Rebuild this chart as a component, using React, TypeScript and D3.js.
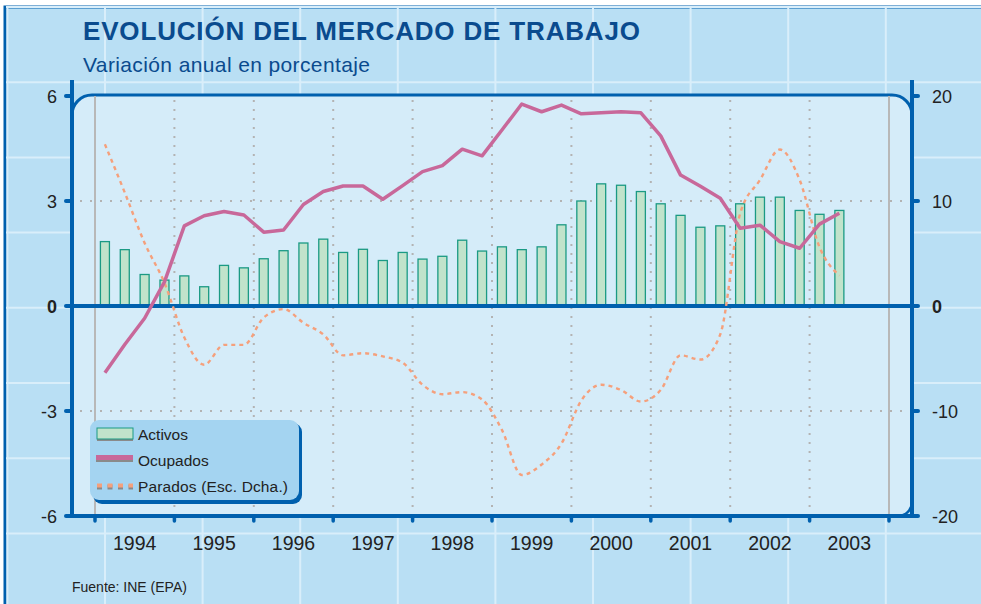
import React from 'react';
import * as d3 from 'd3';

const years = ['1994', '1995', '1996', '1997', '1998', '1999', '2000', '2001', '2002', '2003'];
const quarterNames = ['T1', 'T2', 'T3', 'T4'];
const quarters = years.flatMap((y) => quarterNames.map((q) => `${y}-${q}`)).slice(0, 38);

// Activos (% annual change, left scale)
const activos = [
  1.84, 1.61, 0.9, 0.74, 0.86, 0.55, 1.16, 1.09, 1.35, 1.58, 1.8, 1.91,
  1.53, 1.62, 1.3, 1.53, 1.34, 1.42, 1.88, 1.57, 1.69, 1.61, 1.69, 2.32,
  3.0, 3.49, 3.45, 3.27, 2.92, 2.59, 2.25, 2.29, 2.92, 3.11, 3.11, 2.73, 2.62, 2.73,
];
// Ocupados (% annual change, left scale)
const ocupados = [
  -1.91, -1.1, -0.35, 0.69, 2.29, 2.58, 2.7, 2.6, 2.11, 2.17, 2.9, 3.27,
  3.43, 3.43, 3.05, 3.44, 3.84, 4.01, 4.48, 4.29, 5.03, 5.77, 5.55, 5.74,
  5.49, 5.52, 5.55, 5.52, 4.86, 3.74, 3.42, 3.08, 2.22, 2.31, 1.84, 1.65, 2.34, 2.65,
];
// Parados (% annual change, right scale)
const parados = [
  15.4, 10.8, 6.0, 2.2, -3.0, -5.6, -3.7, -3.7, -1.1, -0.3, -1.6, -2.7,
  -4.7, -4.5, -4.8, -5.4, -7.5, -8.4, -8.2, -8.9, -11.8, -16.1, -15.1, -13.1,
  -9.0, -7.5, -8.0, -9.1, -8.0, -4.7, -5.1, -2.7, 8.8, 12.0, 14.9, 12.0, 5.6, 2.9,
];
const leftTicks = [-6, -3, 0, 3, 6];
const rightTicks = [-20, -10, 0, 10, 20];

const W = 981;
const H = 604;
const DARK = '#0060ae';
const TITLE = '#0a4b8e';
const BG = '#b9dff4';
const PANEL = '#d5ecf9';
const GRID = '#b3b3b3';
const FONT = '"Liberation Sans", Arial, sans-serif';

export default function App() {
  const xq = d3.scaleLinear().domain([0, 40]).range([95, 889]);
  const yL = d3.scaleLinear().domain([-6, 6]).range([516, 96]);
  const yR = d3.scaleLinear().domain([-20, 20]).range([516, 96]);
  const cx = (i: number) => xq(i + 0.5);
  const barW = 9;

  const lineOcu = d3
    .line<number>()
    .x((_, i) => cx(i))
    .y((d) => yL(d));
  const linePar = d3
    .line<number>()
    .x((_, i) => cx(i))
    .y((d) => yR(d))
    .curve(d3.curveMonotoneX);

  const gridV: number[] = [];
  for (let x = 7.4; x < W; x += 97.6) gridV.push(x);
  const gridH: number[] = [];
  for (let y = 7; y < H; y += 75.2) gridH.push(y);

  const yearEdges = d3.range(0, 11).map((k) => xq(k * 4));

  return (
    <svg
      width={W}
      height={H}
      style={{ position: 'absolute', left: 0, top: 0, fontFamily: FONT }}
    >
      <rect x={0} y={0} width={W} height={H} fill="#ffffff" />
      <rect x={5} y={7} width={W + 20} height={H + 20} fill={BG} stroke={DARK} strokeWidth={3} />
      {gridV.map((x, i) => (
        <line key={'gv' + i} x1={x} x2={x} y1={8} y2={H} stroke="#d9eefa" strokeWidth={2} />
      ))}
      {gridH.map((y, i) => (
        <line key={'gh' + i} x1={6} x2={W} y1={y} y2={y} stroke="#d9eefa" strokeWidth={2} />
      ))}

      <text x={83} y={40} fill={TITLE} fontSize={26} fontWeight="bold" textLength={557} lengthAdjust="spacing">
        EVOLUCIÓN DEL MERCADO DE TRABAJO
      </text>
      <text x={83} y={72} fill={TITLE} fontSize={21} textLength={287} lengthAdjust="spacing">
        Variación anual en porcentaje
      </text>

      {/* panel */}
      <path
        d="M72,516 L72,115 A20,20 0 0 1 92,95 L892,95 A20,20 0 0 1 912,115 L912,502 A14,14 0 0 1 898,516 Z"
        fill={PANEL}
      />
      <path
        d="M72,115 A20,20 0 0 1 92,95 L892,95 A20,20 0 0 1 912,115"
        fill="none"
        stroke={DARK}
        strokeWidth={3}
      />
      <path d="M912,502 A14,14 0 0 1 898,516" fill="none" stroke={DARK} strokeWidth={2.5} />

      {/* grid */}
      {yearEdges.slice(1, 10).map((x, i) => (
        <line key={'yv' + i} x1={x} x2={x} y1={100} y2={514} stroke={GRID} strokeWidth={2} strokeDasharray="2 7" />
      ))}
      {[3, -3].map((v) => (
        <line key={'hl' + v} x1={80} x2={906} y1={yL(v)} y2={yL(v)} stroke={GRID} strokeWidth={2} strokeDasharray="2 8" />
      ))}
      {[yearEdges[0], yearEdges[10]].map((x, i) => (
        <line key={'ge' + i} x1={x} x2={x} y1={96} y2={516} stroke="#b8b8b8" strokeWidth={2} />
      ))}

      {/* bars */}
      {activos.map((v, i) => (
        <rect
          key={'b' + quarters[i]}
          x={cx(i) - barW / 2}
          y={yL(Math.max(0, v))}
          width={barW}
          height={Math.abs(yL(v) - yL(0))}
          fill="#c1e3cb"
          stroke="#1b9a84"
          strokeWidth={1.3}
        />
      ))}

      {/* zero line */}
      <line x1={66} x2={918} y1={yL(0)} y2={yL(0)} stroke={DARK} strokeWidth={4} />

      {/* lines */}
      <path d={linePar(parados) || ''} fill="none" stroke="#f5a07c" strokeWidth={2.4} strokeDasharray="4 4" />
      <path d={lineOcu(ocupados) || ''} fill="none" stroke="#c8689a" strokeWidth={3.5} strokeLinejoin="round" />

      {/* axes */}
      <line x1={72} x2={72} y1={80} y2={518} stroke={DARK} strokeWidth={4} />
      <line x1={912} x2={912} y1={80} y2={518} stroke={DARK} strokeWidth={4} />
      <line x1={66} x2={918} y1={516} y2={516} stroke={DARK} strokeWidth={4} />
      {leftTicks.map((t) => (
        <g key={'lt' + t}>
          <line x1={66} x2={72} y1={yL(t)} y2={yL(t)} stroke={DARK} strokeWidth={4} strokeLinecap="round" />
          <text
            x={57}
            y={yL(t) + 6.5}
            textAnchor="end"
            fontSize={18}
            fill="#222"
            fontWeight={t === 0 ? 'bold' : 'normal'}
          >
            {t}
          </text>
        </g>
      ))}
      {rightTicks.map((t) => (
        <g key={'rt' + t}>
          <line x1={912} x2={918} y1={yR(t)} y2={yR(t)} stroke={DARK} strokeWidth={4} strokeLinecap="round" />
          <text
            x={932}
            y={yR(t) + 6.5}
            textAnchor="start"
            fontSize={18}
            fill="#222"
            fontWeight={t === 0 ? 'bold' : 'normal'}
          >
            {t}
          </text>
        </g>
      ))}
      {yearEdges.map((x, i) => (
        <line key={'xt' + i} x1={x} x2={x} y1={516} y2={521} stroke={DARK} strokeWidth={3.5} strokeLinecap="round" />
      ))}
      {years.map((y, i) => (
        <text key={'yl' + y} x={xq(i * 4 + 2)} y={550} textAnchor="middle" fontSize={19.5} fill="#222">
          {y}
        </text>
      ))}

      {/* legend */}
      <rect x={93} y={423} width={209} height={81} rx={9} fill={DARK} />
      <rect x={90} y={420} width={209} height={80} rx={9} fill="#a4d4f1" />
      <rect x={97} y={430} width={36} height={11} fill="#8a8a8a" />
      <rect x={97} y={428} width={36} height={11} fill="#c1e3cb" stroke="#1b9a84" strokeWidth={1} />
      <text x={138} y={440} fontSize={15.5} fill="#222">Activos</text>
      <rect x={96} y={456} width={37} height={6} fill="#8a8a8a" />
      <rect x={96} y={455} width={37} height={5} fill="#c8689a" />
      <text x={138} y={466} fontSize={15.5} fill="#222">Ocupados</text>
      <line x1={97} x2={133} y1={487} y2={487} stroke="#8a8a8a" strokeWidth={5} strokeDasharray="5 5.5" />
      <line x1={97} x2={133} y1={485.5} y2={485.5} stroke="#f5a07c" strokeWidth={4} strokeDasharray="5 5.5" />
      <text x={138} y={492} fontSize={15.5} fill="#222" textLength={150} lengthAdjust="spacing">Parados (Esc. Dcha.)</text>

      <text x={72} y={592} fontSize={14} fill="#222">Fuente: INE (EPA)</text>
    </svg>
  );
}
